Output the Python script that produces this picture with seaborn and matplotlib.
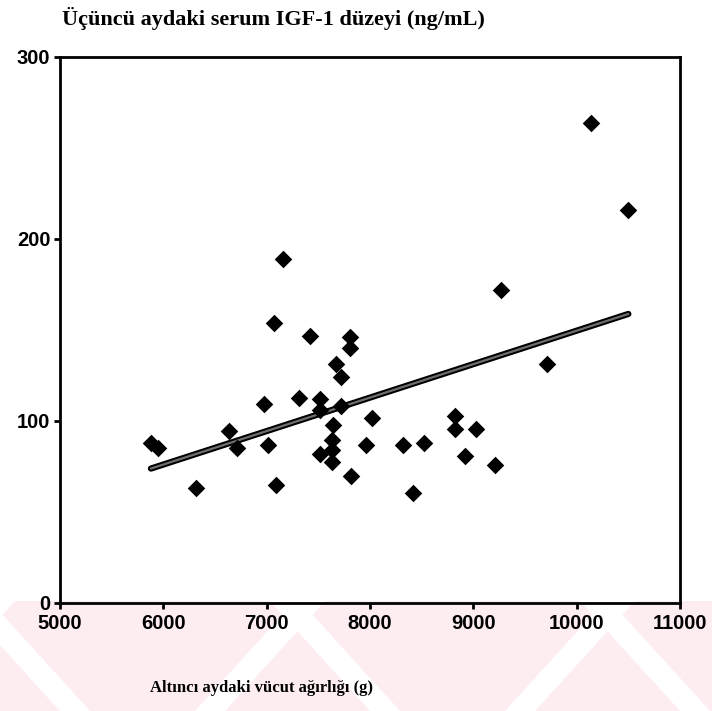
import matplotlib
matplotlib.use("Agg")
import matplotlib.pyplot as plt
import matplotlib.patheffects as pe
from matplotlib.patches import Polygon, Rectangle
import numpy as np
import pandas as pd
import seaborn as sns

# Data
weight_g = [5880, 5950, 6318, 6635, 6712, 6970, 7009, 7067, 7086, 7157,
            7309, 7422, 7513, 7513, 7519, 7632, 7632, 7632, 7645, 7668,
            7720, 7720, 7810, 7810, 7817, 7965, 8017, 8320, 8414, 8521,
            8821, 8821, 8915, 9024, 9205, 9264, 9709, 10143, 10500]
igf1 = [88, 85, 63, 94.5, 85, 109.5, 87, 154, 64.6, 189,
        112.7, 146.6, 112, 106, 81.6, 89.7, 84.2, 77.6, 97.6, 131.5,
        124, 108, 146, 140, 70, 87, 101.6, 87, 60.7, 88,
        103, 95.6, 81, 95.6, 75.6, 172, 131.5, 263.6, 216]
x_ticks = [5000, 6000, 7000, 8000, 9000, 10000, 11000]
y_ticks = [0, 100, 200, 300]
title_text = "Üçüncü aydaki serum IGF-1 düzeyi (ng/mL)"
xlabel_text = "Altıncı aydaki vücut ağırlığı (g)"

df = pd.DataFrame({"w": weight_g, "igf": igf1})

sns.set_theme(style="white")
plt.rcParams["font.family"] = ["Liberation Sans", "DejaVu Sans"]

W, H = 712, 711
fig = plt.figure(figsize=(W / 100, H / 100), dpi=100)
fig.patch.set_facecolor("white")

# faint watermark band at the bottom
pink = "#fdedf0"
band_h = 110
fig.patches.append(Rectangle((0, 0), 1, band_h / H, transform=fig.transFigure,
                             facecolor=pink, edgecolor="none", zorder=-5))
for x0 in [-115, 195, 505, 815]:
    pts = [((x0 + 100) / W, band_h / H), ((x0 + 130) / W, band_h / H),
           ((x0 + 30) / W, 0), (x0 / W, 0)]
    fig.patches.append(Polygon(pts, closed=True, transform=fig.transFigure,
                               facecolor="white", edgecolor="none", zorder=-4))
for x0 in [-40, 270, 580]:
    pts = [(x0 / W, band_h / H), ((x0 + 30) / W, band_h / H),
           ((x0 + 130) / W, 0), ((x0 + 100) / W, 0)]
    fig.patches.append(Polygon(pts, closed=True, transform=fig.transFigure,
                               facecolor="white", edgecolor="none", zorder=-4))

ax = fig.add_axes([60 / W, 1 - 603 / H, 620 / W, 546 / H])
ax.set_zorder(2)
ax.patch.set_alpha(0)

sns.regplot(data=df, x="w", y="igf", ax=ax, ci=None, marker="D",
            scatter_kws=dict(color="black", s=80, linewidths=0, alpha=1, zorder=3),
            line_kws=dict(color="#6e6e6e", lw=1.6, zorder=2,
                          path_effects=[pe.Stroke(linewidth=4.5, foreground="black"),
                                        pe.Normal()]))

ax.set_xlim(5000, 11000)
ax.set_ylim(0, 300)
ax.set_xticks(x_ticks)
ax.set_yticks(y_ticks)
ax.set_xticklabels([str(t) for t in x_ticks], fontsize=14.5, fontweight="bold",
                   family="Liberation Sans")
ax.set_yticklabels([str(t) for t in y_ticks], fontsize=14.5, fontweight="bold",
                   family="Liberation Sans")
ax.tick_params(axis="both", direction="out", length=4, width=2, color="black",
               labelcolor="black", bottom=True, left=True, pad=3)
ax.tick_params(axis="x", pad=4)
for s in ax.spines.values():
    s.set_visible(True)
    s.set_color("black")
    s.set_linewidth(2)
ax.set_xlabel("")
ax.set_ylabel("")

fig.text(62 / W, 1 - 18 / H, title_text, fontsize=16, fontweight="bold",
         color="black", family=["Liberation Serif", "DejaVu Serif"],
         va="center", ha="left")
fig.text(150 / W, 1 - 688 / H, xlabel_text, fontsize=12, fontweight="bold",
         color="black", family=["Liberation Serif", "DejaVu Serif"],
         va="center", ha="left")

fig.savefig("out.png", dpi=100, facecolor="white")
